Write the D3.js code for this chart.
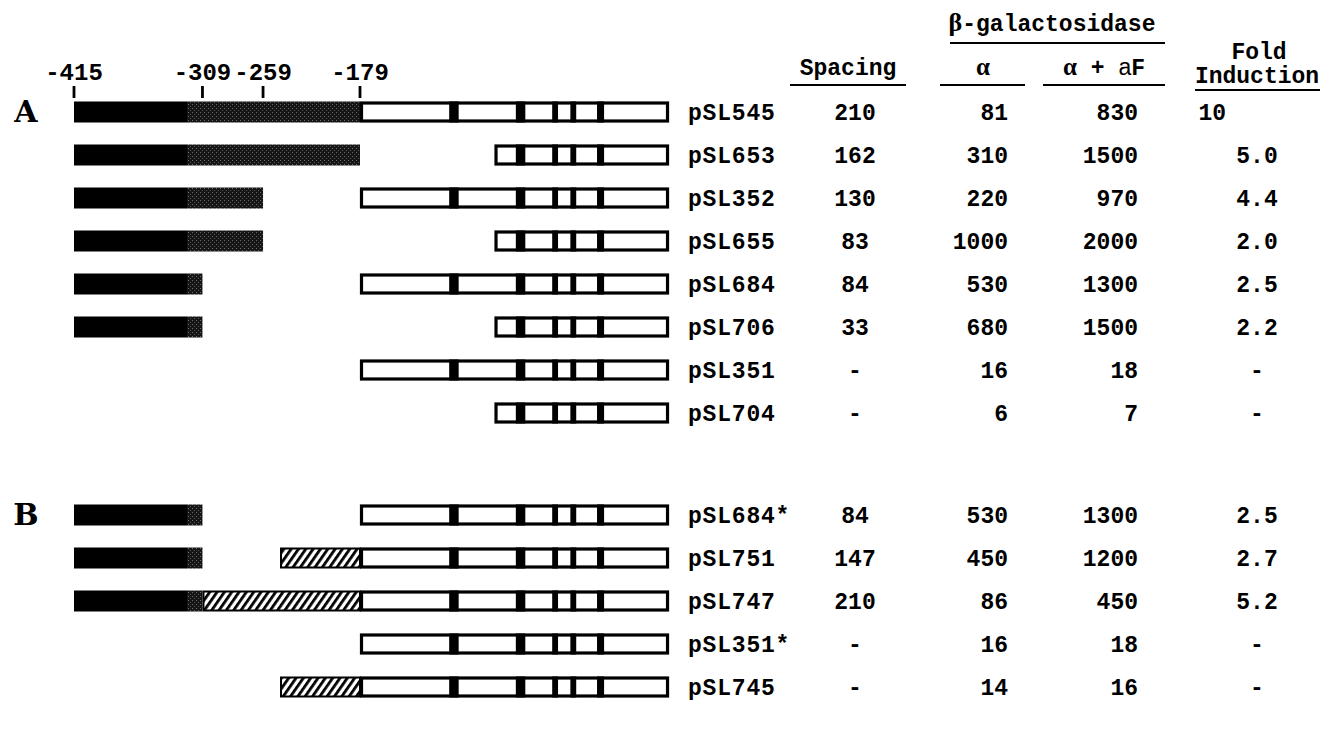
<!DOCTYPE html>
<html><head><meta charset="utf-8">
<script src="https://cdn.jsdelivr.net/npm/d3@7"></script>
<style>
body{margin:0;background:#fff;}
svg text{font-family:"Liberation Mono","DejaVu Sans Mono",monospace;font-weight:bold;fill:#000;}
</style></head>
<body>
<svg id="chart" width="1326" height="730"></svg>
<script>
// ---- data ----
const tickLabels = [-415, -309, -259, -179];
const groups = ["A","A","A","A","A","A","A","A","B","B","B","B","B"];
const plasmids = ["pSL545","pSL653","pSL352","pSL655","pSL684","pSL706","pSL351","pSL704","pSL684*","pSL751","pSL747","pSL351*","pSL745"];
// upstream (black/stippled) region end, in bp (null = none)
const upstreamEnd = [-179,-179,-259,-259,-309,-309,null,null,-309,-309,-309,null,null];
// hatched (substituted) region start, in bp (null = none); all end at -179
const hatchStart = [null,null,null,null,null,null,null,null,null,-245,-309,null,-245];
// start of the open (reporter) region, in bp
const geneStart = [-179,-68,-179,-68,-179,-68,-179,-68,-179,-179,-179,-179,-179];
const geneEnd = 76;
const upstreamStart = -415;
const stippleStart = -321;
// dark divisions inside the open region, in bp
const dividers = [[-105,-98],[-50,-43],[-20,-16],[-5,-1],[17,22]];
const spacing = ["210","162","130","83","84","33","-","-","84","147","210","-","-"];
const alpha = ["81","310","220","1000","530","680","16","6","530","450","86","16","14"];
const alphaF = ["830","1500","970","2000","1300","1500","18","7","1300","1200","450","18","16"];
const fold = ["10","5.0","4.4","2.0","2.5","2.2","-","-","2.5","2.7","5.2","-","-"];

// ---- layout ----
const svg = d3.select("#chart");
const x = d3.scaleLinear().domain([-415, -179]).range([74, 360]);
const rowStep = 43, rowTop = 112, groupGap = 59;
const yRow = i => rowTop + i*rowStep + (groups[i]==="B" ? groupGap : 0);
const barH = 21;
const fs = 23;

const defs = svg.append("defs");
const st = defs.append("pattern").attr("id","stipple").attr("patternUnits","userSpaceOnUse")
  .attr("width",4).attr("height",4);
st.append("rect").attr("width",4).attr("height",4).attr("fill","#161616");
st.append("rect").attr("x",0).attr("y",0).attr("width",1).attr("height",1).attr("fill","#6e6e6e");
st.append("rect").attr("x",2).attr("y",2).attr("width",1).attr("height",1).attr("fill","#555");
const ht = defs.append("pattern").attr("id","hatch").attr("patternUnits","userSpaceOnUse")
  .attr("width",6).attr("height",6).attr("patternTransform","rotate(35)");
ht.append("rect").attr("width",6).attr("height",6).attr("fill","#fff");
ht.append("rect").attr("width",2.8).attr("height",6).attr("fill","#000");

// scale ticks
const axis = svg.append("g");
axis.selectAll("line").data(tickLabels).join("line")
  .attr("x1",d=>x(d)).attr("x2",d=>x(d)).attr("y1",86).attr("y2",98)
  .attr("stroke","#000").attr("stroke-width",2.8);
axis.selectAll("text").data(tickLabels).join("text")
  .attr("x",d=>x(d)).attr("y",80).attr("text-anchor","middle")
  .attr("font-size",fs+1).text(d=>"-"+Math.abs(d));

// group letters
["A","B"].forEach(g=>{
  const i = groups.indexOf(g);
  svg.append("text").attr("x",26).attr("y",yRow(i)+10).attr("text-anchor","middle")
    .style("font-family","'DejaVu Serif','Liberation Serif',serif")
    .attr("font-size",30).text(g);
});

// bars
const rows = svg.append("g").selectAll("g").data(plasmids).join("g");
rows.each(function(name,i){
  const g = d3.select(this);
  const yc = yRow(i), y0 = yc - barH/2;
  if(upstreamEnd[i]!==null){
    const e = upstreamEnd[i];
    const bEnd = Math.min(e, stippleStart);
    g.append("rect").attr("x",x(upstreamStart)).attr("y",y0).attr("width",x(bEnd)-x(upstreamStart)).attr("height",barH).attr("fill","#000");
    if(e>stippleStart){
      const sEnd = hatchStart[i]!==null && hatchStart[i]<e ? hatchStart[i] : e;
      g.append("rect").attr("x",x(stippleStart)).attr("y",y0).attr("width",x(sEnd)-x(stippleStart)).attr("height",barH).attr("fill","url(#stipple)");
    }
  }
  if(hatchStart[i]!==null){
    g.append("rect").attr("x",x(hatchStart[i])+1).attr("y",y0+1).attr("width",x(-179)-x(hatchStart[i])-1).attr("height",barH-2)
      .attr("fill","url(#hatch)").attr("stroke","#000").attr("stroke-width",2);
  }
  const gs = geneStart[i];
  g.append("rect").attr("x",x(gs)+1.5).attr("y",y0+1.5).attr("width",x(geneEnd)-x(gs)-3).attr("height",barH-3)
    .attr("fill","#fff").attr("stroke","#000").attr("stroke-width",3.2);
  dividers.filter(d=>d[0]>gs).forEach(d=>{
    g.append("rect").attr("x",x(d[0])-0.5).attr("y",y0).attr("width",x(d[1])-x(d[0])+1).attr("height",barH).attr("fill","#000");
  });
  g.append("text").attr("x",688).attr("y",yc+8).attr("font-size",fs).attr("letter-spacing",0.8).text(name);
  g.append("text").attr("x",855).attr("y",yc+8).attr("text-anchor","middle").attr("font-size",fs).text(spacing[i]);
  g.append("text").attr("x",1008).attr("y",yc+8).attr("text-anchor","end").attr("font-size",fs).text(alpha[i]);
  g.append("text").attr("x",1138).attr("y",yc+8).attr("text-anchor","end").attr("font-size",fs).text(alphaF[i]);
  const fv = fold[i];
  const ft = g.append("text").attr("y",yc+8).attr("font-size",fs).text(fv);
  if(fv.includes(".") || fv==="-") ft.attr("x",1257).attr("text-anchor","middle");
  else ft.attr("x",1226).attr("text-anchor","end");
});

// headers
const hdr = svg.append("g");
function ul(x1,x2,y){hdr.append("line").attr("x1",x1).attr("x2",x2).attr("y1",y).attr("y2",y).attr("stroke","#000").attr("stroke-width",2.2);}
hdr.append("text").attr("x",848).attr("y",75).attr("text-anchor","middle").attr("font-size",fs).text("Spacing");
ul(790,906,85);
const bt = hdr.append("text").attr("x",1052).attr("y",31).attr("text-anchor","middle").attr("font-size",fs);
bt.append("tspan").style("font-family","'Liberation Serif',serif").attr("font-size",26).text("β");
bt.append("tspan").text("-galactosidase");
ul(950,1165,43);
hdr.append("text").attr("x",983).attr("y",75).attr("text-anchor","middle").attr("font-size",fs+2)
  .style("font-family","'Liberation Serif',serif").text("α");
ul(940,1025,85);
const af = hdr.append("text").attr("x",1104).attr("y",75).attr("text-anchor","middle").attr("font-size",fs);
af.append("tspan").style("font-family","'Liberation Serif',serif").attr("font-size",fs+2).text("α");
af.append("tspan").text(" + ");
af.append("tspan").style("font-weight","normal").style("font-family","'Liberation Sans',sans-serif").text("a");
af.append("tspan").text("F");
ul(1043,1165,85);
hdr.append("text").attr("x",1259).attr("y",59).attr("text-anchor","middle").attr("font-size",fs).text("Fold");
hdr.append("text").attr("x",1257).attr("y",83).attr("text-anchor","middle").attr("font-size",fs).text("Induction");
ul(1195,1320,90);
</script>
</body></html>
